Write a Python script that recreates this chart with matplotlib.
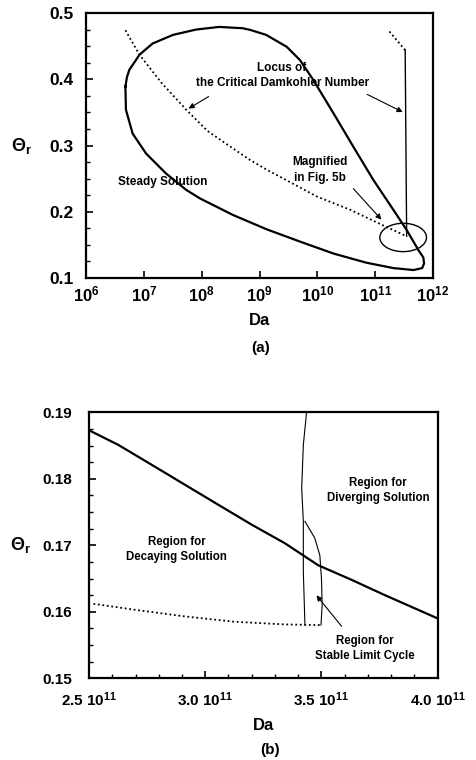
import matplotlib
matplotlib.use("Agg")
import matplotlib.pyplot as plt
from matplotlib.patches import Ellipse
from matplotlib.ticker import AutoMinorLocator, MultipleLocator, NullLocator

plt.rcParams['font.family'] = ['Liberation Sans', 'DejaVu Sans']
plt.rcParams['font.weight'] = 'bold'
plt.rcParams['mathtext.fontset'] = 'custom'
plt.rcParams['mathtext.rm'] = 'Liberation Sans:bold'
plt.rcParams['mathtext.it'] = 'Liberation Sans:bold'
plt.rcParams['mathtext.bf'] = 'Liberation Sans:bold'
plt.rcParams['mathtext.default'] = 'rm'

# ---- panel (a): steady solution loop and critical Damkohler locus ----
loop_da = [4.8e6, 5.1e6, 5.6e6, 8.4e6, 1.42e7, 3.2e7, 8.0e7, 2.0e8, 5.1e8, 6.9e8, 1.3e9,
           2.95e9, 5.0e9, 8.5e9, 1.89e10, 4.2e10, 9.3e10, 2.06e11, 3.5e11, 5.6e11, 6.8e11,
           7.0e11, 6.5e11, 4.6e11, 2.06e11, 7.1e10, 1.89e10, 5.0e9, 1.33e9, 3.5e8, 9.4e7,
           5.4e7, 2.4e7, 1.09e7, 6.4e6, 4.9e6, 4.8e6]
loop_theta = [0.389, 0.403, 0.414, 0.437, 0.454, 0.467, 0.475, 0.479, 0.477, 0.4745, 0.467,
              0.449, 0.429, 0.399, 0.349, 0.298, 0.248, 0.203, 0.1725, 0.142, 0.131,
              0.122, 0.115, 0.112, 0.115, 0.123, 0.137, 0.155, 0.1735, 0.195, 0.220,
              0.233, 0.258, 0.288, 0.318, 0.354, 0.389]

locus_da = [4.8e6, 8.4e6, 2.0e7, 5.4e7, 1.26e8, 2.6e8, 6.9e8, 1.3e9, 2.6e9, 9.8e9,
            3.7e10, 1.4e11, 3.5e11]
locus_theta = [0.474, 0.437, 0.395, 0.354, 0.322, 0.303, 0.278, 0.264, 0.250, 0.223,
               0.203, 0.179, 0.163]

vert_da = [3.5e11, 3.3e11]
vert_theta = [0.163, 0.444]

upper_da = [3.3e11, 1.69e11]
upper_theta = [0.444, 0.474]

xticks_a = [1e6, 1e7, 1e8, 1e9, 1e10, 1e11, 1e12]
xlabels_a = ['10$^{6}$', '10$^{7}$', '10$^{8}$', '10$^{9}$', '10$^{10}$', '10$^{11}$', '10$^{12}$']
yticks_a = [0.1, 0.2, 0.3, 0.4, 0.5]
ylabels_a = ['0.1', '0.2', '0.3', '0.4', '0.5']

# ---- panel (b): magnified region (Da in units of 1e11) ----
steady_b_da = [2.5, 2.626, 2.770, 2.913, 3.056, 3.200, 3.343, 3.486, 3.630, 3.773, 3.916, 4.0]
steady_b_theta = [0.1873, 0.1851, 0.1821, 0.1791, 0.1761, 0.1731, 0.1703, 0.1670,
                  0.1648, 0.1625, 0.1603, 0.1590]

crit_b_da = [2.519, 2.698, 2.913, 3.128, 3.343, 3.498]
crit_b_theta = [0.1612, 0.1603, 0.1593, 0.1585, 0.1581, 0.1580]

left_b_da = [3.436, 3.422, 3.415, 3.422, 3.422, 3.429]
left_b_theta = [0.190, 0.1851, 0.1786, 0.1736, 0.1660, 0.1580]

right_b_da = [3.429, 3.471, 3.493, 3.500, 3.503, 3.498]
right_b_theta = [0.1736, 0.1711, 0.1685, 0.1650, 0.1610, 0.1580]

xticks_b = [2.5, 3.0, 3.5, 4.0]
xlabels_b = ['2.5 10$^{11}$', '3.0 10$^{11}$', '3.5 10$^{11}$', '4.0 10$^{11}$']
yticks_b = [0.15, 0.16, 0.17, 0.18, 0.19]
ylabels_b = ['0.15', '0.16', '0.17', '0.18', '0.19']

fig = plt.figure(figsize=(4.76, 7.6), dpi=100)
ax1 = fig.add_axes([0.1807, 0.6342, 0.729, 0.3487])
ax2 = fig.add_axes([0.187, 0.1075, 0.7325, 0.350])

for ax in (ax1, ax2):
    for s in ax.spines.values():
        s.set_linewidth(1.6)
    ax.tick_params(which='both', direction='in', top=False, right=False)
    ax.tick_params(which='major', length=5, width=1.2)
    ax.tick_params(which='minor', length=3, width=1.0)

# panel (a)
ax1.set_xscale('log')
ax1.plot(loop_da, loop_theta, color='black', lw=1.6)
ax1.plot(locus_da, locus_theta, color='black', lw=1.3, ls=(0, (1, 1.5)))
ax1.plot(vert_da, vert_theta, color='black', lw=1.0)
ax1.plot(upper_da, upper_theta, color='black', lw=1.3, ls=(0, (1, 1.5)))
ax1.add_patch(Ellipse((0.914, 0.153), 0.1345, 0.107, transform=ax1.transAxes,
                      fill=False, lw=1.0, color='black'))
ax1.set_xlim(1e6, 1e12)
ax1.set_ylim(0.1, 0.5)
ax1.set_xticks(xticks_a, xlabels_a)
ax1.xaxis.set_minor_locator(NullLocator())
ax1.set_yticks(yticks_a, ylabels_a)
ax1.yaxis.set_minor_locator(AutoMinorLocator(4))
ax1.tick_params(axis='x', labelsize=12, pad=5)
ax1.tick_params(axis='y', labelsize=12.5, pad=9)
ax1.set_xlabel('Da', fontsize=12, fontweight='bold', labelpad=6)
ax1.set_ylabel(r'$\Theta_r$', fontsize=13, rotation=0, labelpad=20, va='center')

txt = dict(fontsize=8.5, fontweight='bold', ha='center', va='center')
ax1.text(2.4e9, 0.4165, 'Locus of', **txt)
ax1.text(2.5e9, 0.394, 'the Critical Damkohler Number', **txt)
ax1.text(2.1e7, 0.2454, 'Steady Solution', **txt)
ax1.text(1.12e10, 0.2756, 'Magnified', **txt)
ax1.text(1.12e10, 0.2505, 'in Fig. 5b', **txt)
arr = dict(arrowstyle='-|>', color='black', lw=0.8, mutation_scale=8)
ax1.annotate('', xy=(5.4e7, 0.3536), xytext=(1.45e8, 0.376), arrowprops=arr)
ax1.annotate('', xy=(3.3e11, 0.3486), xytext=(6.6e10, 0.379), arrowprops=arr)
ax1.annotate('', xy=(1.38e11, 0.185), xytext=(3.9e10, 0.238), arrowprops=arr)
fig.text(261 / 476, 1 - 348 / 760, '(a)', fontsize=11, fontweight='bold',
         ha='center', va='center')

# panel (b)
ax2.plot(steady_b_da, steady_b_theta, color='black', lw=1.6)
ax2.plot(crit_b_da, crit_b_theta, color='black', lw=1.3, ls=(0, (1, 1.5)))
ax2.plot(left_b_da, left_b_theta, color='black', lw=0.8)
ax2.plot(right_b_da, right_b_theta, color='black', lw=0.8)
ax2.set_xlim(2.5, 4.0)
ax2.set_ylim(0.15, 0.19)
ax2.set_xticks(xticks_b, xlabels_b)
ax2.xaxis.set_minor_locator(MultipleLocator(0.1))
ax2.set_yticks(yticks_b, ylabels_b)
ax2.yaxis.set_minor_locator(AutoMinorLocator(4))
ax2.tick_params(axis='x', labelsize=11, pad=9)
ax2.tick_params(axis='y', labelsize=11, pad=12)
ax2.set_xlabel('Da', fontsize=12, fontweight='bold', labelpad=6)
ax2.set_ylabel(r'$\Theta_r$', fontsize=13, rotation=0, labelpad=16, va='center')

txt_b = dict(fontsize=8.3, fontweight='bold', ha='center', va='center', linespacing=1.3)
ax2.text(3.744, 0.1782, 'Region for\nDiverging Solution', **txt_b)
ax2.text(2.877, 0.1694, 'Region for\nDecaying Solution', **txt_b)
ax2.text(3.687, 0.1545, 'Region for\nStable Limit Cycle', **txt_b)
ax2.annotate('', xy=(3.471, 0.1628), xytext=(3.594, 0.1575), arrowprops=arr)
fig.text(270 / 476, 1 - 750 / 760, '(b)', fontsize=11, fontweight='bold',
         ha='center', va='center')

fig.savefig('out.png', dpi=100)
